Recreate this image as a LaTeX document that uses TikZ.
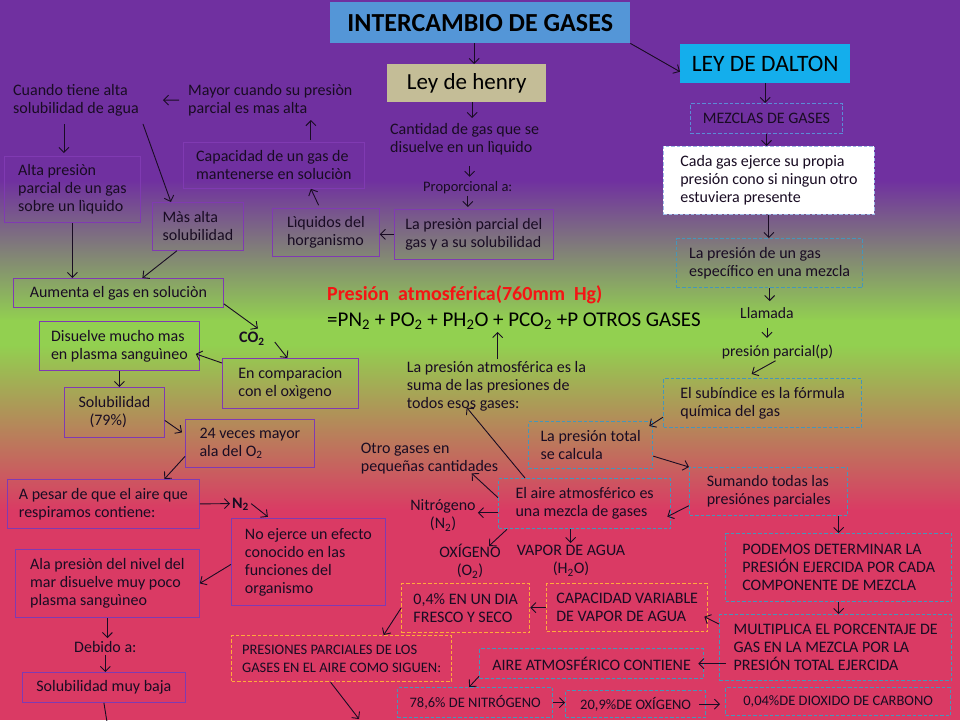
\documentclass[tikz,border=0pt]{standalone}
\usepackage{fontspec}
\setmainfont{Carlito}
\usetikzlibrary{arrows.meta}

\definecolor{morado}{RGB}{112,48,160}
\definecolor{verde}{RGB}{146,208,80}
\definecolor{rosa}{RGB}{218,58,100}
\definecolor{azulTitulo}{RGB}{84,150,215}
\definecolor{azulDalton}{RGB}{20,174,236}
\definecolor{arena}{RGB}{196,189,151}
\definecolor{bordeMorado}{RGB}{128,58,178}
\definecolor{azulPunteado}{RGB}{70,150,185}
\definecolor{azulMezcla}{RGB}{91,140,215}
\definecolor{naranjaP}{RGB}{255,170,60}
\definecolor{rojoTitulo}{RGB}{245,20,20}
\definecolor{tinta}{RGB}{25,12,35}

\begin{document}
\begin{tikzpicture}[x=1pt, y=-1pt,
    every node/.style={font=\fontsize{16}{18}\selectfont, text=tinta},
    caja/.style={draw=bordeMorado, line width=0.8pt, anchor=north west, align=left, inner xsep=4pt, inner ysep=1pt},
    punteada/.style={draw=azulPunteado, line width=1.3pt, dash pattern=on 3.5pt off 2pt, anchor=north west, align=left, inner xsep=4pt, inner ysep=1pt},
    naranja/.style={punteada, draw=naranjaP},
    texto/.style={anchor=north west, align=left, inner sep=2pt, execute at begin node={\rule{0pt}{12pt}}},
    linea/.style={anchor=base west, inner sep=2pt, execute at begin node={\rule{0pt}{12pt}}},
    flecha/.style={draw=tinta, line width=0.9pt, -{Straight Barb[length=5pt,width=10pt]}}]

    % Fondo degradado
    \fill[morado] (0,0) rectangle (960,181);
    \shade[top color=morado, bottom color=verde] (0,180) rectangle (960,321);
    \fill[verde] (0,320) rectangle (960,346);
    \shade[top color=verde, bottom color=rosa] (0,345) rectangle (960,511);
    \fill[rosa] (0,510) rectangle (960,720);
    \useasboundingbox (0,0) rectangle (960,720);

    % Titulos
    \node[fill=azulTitulo, anchor=north west, minimum width=300, minimum height=41, inner sep=0pt, text=black, font=\fontsize{26}{30}\selectfont\bfseries] (titulo) at (330,2) {INTERCAMBIO DE GASES};
    \node[fill=arena, anchor=north west, minimum width=159, minimum height=38, inner sep=0pt, text=black, font=\fontsize{23}{26}\selectfont] (henry) at (387,64) {Ley de henry};
    \node[fill=azulDalton, anchor=north west, minimum width=170, minimum height=39, inner sep=0pt, text=black, font=\fontsize{23.5}{26}\selectfont] (dalton) at (680,44) {LEY DE DALTON};

    % Ley de Henry
    \node[texto] (cantidad) at (388,121) {Cantidad de gas que se\\disuelve en un lìquido};
    \node[linea, font=\fontsize{14.5}{17}\selectfont] (proporcional) at (421,191) {Proporcional a:};
    \node[caja, minimum width=159, minimum height=50] (presion) at (394,209) {La presiòn parcial del\\gas y a su solubilidad};
    \node[caja, minimum width=107, minimum height=48] (liquidos) at (272,208) {Lìquidos del\\horganismo};
    \node[caja, minimum width=181, minimum height=46] (capacidad) at (183,142) {Capacidad de un gas de\\mantenerse en soluciòn};
    \node[texto] (mayor) at (186,82) {Mayor cuando su presiòn\\parcial es mas alta};
    \node[texto] (cuando) at (11,82) {Cuando tiene alta\\solubilidad de agua};
    \node[caja, minimum width=136, minimum height=66] (alta) at (4,156) {Alta presiòn\\parcial de un gas\\sobre un lìquido};
    \node[caja, minimum width=91, minimum height=48] (masalta) at (152,202) {Màs alta\\solubilidad};
    \node[caja, minimum width=210, minimum height=29] (aumenta) at (13,278) {Aumenta el gas en soluciòn};
    \node[linea, font=\fontsize{16}{18}\selectfont\bfseries] (co2) at (237,342.7) {CO\textsubscript{2}};
    \node[caja, minimum width=136, minimum height=50] (comparacion) at (222,358) {En comparacion\\con el oxìgeno};
    \node[caja, minimum width=160, minimum height=49] (disuelve) at (39,321) {Disuelve mucho mas\\en plasma sanguìneo};
    \node[caja, minimum width=100, minimum height=50] (sol79) at (64,387) {Solubilidad\\\hspace*{11pt}(79\%)};
    \node[caja, minimum width=129, minimum height=48] (veces) at (185,419) {24 veces mayor\\ala del O\textsubscript{2}};
    \node[caja, minimum width=192, minimum height=49] (apesar) at (7,479) {A pesar de que el aire que\\respiramos contiene:};
    \node[linea, font=\fontsize{16}{18}\selectfont\bfseries] (n2) at (230,508.3) {N\textsubscript{2}};
    \node[caja, minimum width=154, minimum height=87] (noejerce) at (231,518) {No ejerce un efecto\\conocido en las\\funciones del\\organismo};
    \node[caja, minimum width=184, minimum height=68] (alapresion) at (15,549) {Ala presiòn del nivel del\\mar disuelve muy poco\\plasma sanguìneo};
    \node[linea] (debido) at (72,652.3) {Debido a:};
    \node[caja, minimum width=163, minimum height=30] (muybaja) at (22,672) {Solubilidad muy baja};
    \coordinate (salida1) at (107,722);

    % Presion atmosferica
    \node[linea, text=rojoTitulo, font=\fontsize{20}{24}\selectfont\bfseries] (presatm) at (325,300) {Presión\ \ atmosférica(760mm\ \ Hg)};
    \node[linea, text=black, font=\fontsize{21}{24}\selectfont] (ecuacion) at (325,326.7) {=PN\textsubscript{2} + PO\textsubscript{2} + PH\textsubscript{2}O + PCO\textsubscript{2} +P OTROS GASES};
    \node[texto] (suma) at (404.7,359.3) {La presión atmosférica es la\\suma de las presiones de\\todos esos gases:};
    \node[texto] (otros) at (358.7,441) {Otro gases en\\pequeñas cantidades};
    \node[texto, anchor=north, align=center] (nitrogeno) at (443,497.7) {Nitrógeno\\(N\textsubscript{2})};
    \node[texto, anchor=north, align=center] (oxigeno) at (470,542) {OXÍGENO\\(O\textsubscript{2})};
    \node[texto, anchor=north, align=center] (vapor) at (571,543) {VAPOR DE AGUA\\(H\textsubscript{2}O)};

    % Ley de Dalton
    \node[punteada, draw=azulMezcla, line width=1pt, minimum width=152, minimum height=30] (mezclas) at (690,103) {MEZCLAS DE GASES};
    \node[punteada, draw=azulMezcla!60, line width=0.8pt, fill=white, minimum width=211, minimum height=68] (cadagas) at (663,146) {Cada gas ejerce su propia\\presión cono si ningun otro\\estuviera presente};
    \node[punteada, minimum width=186, minimum height=49] (presiongas) at (676,238) {La presión de un gas\\específico en una mezcla};
    \node[linea, font=\fontsize{15.7}{18}\selectfont] (llamada) at (738,318.3) {Llamada};
    \node[linea, font=\fontsize{15.7}{18}\selectfont] (parcialp) at (719.7,356) {presión parcial(p)};
    \node[punteada, minimum width=198, minimum height=49] (subindice) at (663,378) {El subíndice es la fórmula\\química del gas};
    \node[punteada, minimum width=124, minimum height=47] (total) at (528,421) {La presión total\\se calcula};
    \node[punteada, minimum width=158, minimum height=48] (sumando) at (689,467) {Sumando todas las\\presiónes parciales};
    \node[punteada, minimum width=172, minimum height=50] (aire) at (498,478) {El aire atmosférico es\\una mezcla de gases};
    \node[punteada, minimum width=226, minimum height=68] (podemos) at (725,533) {PODEMOS DETERMINAR LA\\PRESIÓN EJERCIDA POR CADA\\COMPONENTE DE MEZCLA};
    \node[punteada, minimum width=232, minimum height=66] (multiplica) at (719,614) {MULTIPLICA EL PORCENTAJE DE\\GAS EN LA MEZCLA POR LA\\PRESIÓN TOTAL EJERCIDA};
    \node[naranja, minimum width=161, minimum height=48] (capvar) at (546,583) {CAPACIDAD VARIABLE\\DE VAPOR DE AGUA};
    \node[naranja, minimum width=128, minimum height=49] (cuatro) at (401,583) {0,4\% EN UN DIA\\FRESCO Y SECO};
    \node[naranja, minimum width=220, minimum height=46, font=\fontsize{14.5}{17.5}\selectfont] (presparc) at (231,635) {PRESIONES PARCIALES DE LOS\\GASES EN EL AIRE COMO SIGUEN:};
    \coordinate (salida2) at (359,719);
    \node[punteada, minimum width=224, minimum height=30] (contiene) at (479,648) {AIRE ATMOSFÉRICO CONTIENE};
    \node[punteada, minimum width=155, minimum height=30, font=\fontsize{14.5}{17}\selectfont] (nitro786) at (397,687) {78,6\% DE NITRÓGENO};
    \node[punteada, minimum width=140, minimum height=27, font=\fontsize{14.5}{17}\selectfont] (oxi209) at (565,690) {20,9\%DE OXÍGENO};
    \node[punteada, minimum width=225, minimum height=28, font=\fontsize{14.5}{17}\selectfont] (dioxido) at (725,687) {0,04\%DE DIOXIDO DE CARBONO};

    % Flechas de la Ley de Henry
    \draw[flecha] ([xshift=-6pt]titulo.south) -- ([xshift=-6pt]titulo.south |- henry.north);
    \draw[flecha, shorten >=3pt] ([xshift=5.5pt]henry.south) -- ([xshift=5.5pt]henry.south |- cantidad.north);
    \draw[flecha, shorten <=9pt] ([xshift=5pt]cantidad.south) -- ([xshift=5pt]cantidad.south |- proporcional.north);
    \draw[flecha, shorten >=2pt] (proporcional.south) -- (proporcional.south |- presion.north);
    \draw[flecha] (presion.west) -- (presion.west -| liquidos.east);
    \draw[flecha, shorten <=3pt] ([xshift=-6pt]liquidos.north) -- ([xshift=37pt]capacidad.south);
    \draw[flecha, shorten <=2pt, shorten >=2pt] ([xshift=37pt]capacidad.north) -- ([xshift=37pt]capacidad.north |- mayor.south);
    \draw[flecha, shorten <=7pt, shorten >=22pt] (mayor.west) -- (cuando.east);
    \draw[flecha, shorten <=6pt, shorten >=3pt] ([xshift=-12pt]cuando.south) -- ([xshift=-12pt]cuando.south |- alta.north);
    \draw[flecha, shorten <=6pt] (cuando.south east) -- ([xshift=-27pt]masalta.north);
    \draw[flecha] (alta.south) -- (alta.south |- aumenta.north);
    \draw[flecha] ([xshift=-21pt]masalta.south) -- ([xshift=24pt]aumenta.north);
    \draw[flecha] ([yshift=4pt]aumenta.south east) -- ([xshift=6pt]co2.north);
    \draw[flecha] ([xshift=8pt,yshift=-4pt]co2.east) -- ([xshift=-3pt]comparacion.north);
    \draw[flecha] ([yshift=-5pt]comparacion.north west) -- ([xshift=-4pt,yshift=-8pt]disuelve.east);
    \draw[flecha] (disuelve.south) -- (disuelve.south |- sol79.north);
    \draw[flecha] ([yshift=-8pt]sol79.east) -- ([xshift=-3pt,yshift=11pt]veces.west);
    \draw[flecha] ([yshift=-13pt]veces.west) -- ([xshift=61pt]apesar.north);
    \draw[flecha] (apesar.east) -- (n2.west);
    \draw[flecha, shorten >=2pt] (n2.east) -- ([xshift=-39pt]noejerce.north);
    \draw[flecha] ([yshift=-2.5pt]noejerce.west) -- (alapresion.east);
    \draw[flecha] (alapresion.south) -- (alapresion.south |- debido.north);
    \draw[flecha] (debido.south) -- (debido.south |- muybaja.north);
    \draw[draw=tinta, line width=0.9pt] (muybaja.south) -- (salida1);

    % Flechas de la Ley de Dalton
    \draw[flecha] (titulo.south east) -- ([yshift=-8pt]dalton.west);
    \draw[flecha] (dalton.south) -- (dalton.south |- mezclas.north);
    \draw[flecha] (mezclas.south) -- (mezclas.south |- cadagas.north);
    \draw[flecha] (cadagas.south) -- (cadagas.south |- presiongas.north);
    \draw[flecha, shorten >=3pt] (presiongas.south) -- (presiongas.south |- llamada.north);
    \draw[flecha, shorten <=7pt, shorten >=4pt] (llamada.south) -- (llamada.south |- parcialp.north);
    \draw[flecha] ([xshift=-2pt]parcialp.south) -- ([xshift=-11pt,yshift=4pt]subindice.north);
    \draw[flecha] ([yshift=-14pt]subindice.west) -- ([xshift=-4pt,yshift=-5pt]total.north east);
    \draw[flecha] ([yshift=-11pt]total.east) -- (sumando.north west);
    \draw[flecha] ([yshift=-14pt]sumando.west) -- ([xshift=-4pt,yshift=-13pt]aire.east);
    \draw[flecha] ([xshift=27pt]aire.north west) -- ([xshift=62pt,yshift=6pt]suma.south west);
    \draw[flecha] ([xshift=93pt]suma.north west) -- ([xshift=93pt]suma.north west |- ecuacion.south);
    \draw[flecha] ([yshift=6pt]aire.west) -- ([xshift=113pt,yshift=3pt]otros.south west);
    \draw[flecha] ([yshift=-9pt]aire.west) -- ([yshift=-9pt]aire.west -| nitrogeno.east);
    \draw[flecha] ([xshift=9pt]aire.south west) -- ([xshift=19pt,yshift=-4pt]oxigeno.north);
    \draw[flecha] ([xshift=-14pt]aire.south) -- ([xshift=-14pt]aire.south |- vapor.north);
    \draw[flecha] ([xshift=70pt]sumando.south) -- ([xshift=70pt]sumando.south |- podemos.north);
    \draw[flecha] (podemos.south) -- (podemos.south |- multiplica.north);
    \draw[flecha] ([yshift=-10pt]multiplica.north west) -- ([xshift=-4pt,yshift=-9pt]capvar.east);
    \draw[flecha] (capvar.west) -- (capvar.west -| cuatro.east);
    \draw[flecha] (cuatro.west) -- ([xshift=42pt]presparc.north);
    \draw[flecha] ([xshift=-11pt]presparc.south) -- (salida2);
    \draw[flecha, shorten <=-7pt, shorten >=-6pt] (contiene.east -| multiplica.west) -- (contiene.east);
    \draw[flecha] ([yshift=3pt]contiene.south west) -- ([xshift=-6pt]nitro786.north);
    \draw[flecha] (nitro786.east) -- (nitro786.east -| oxi209.west);
    \draw[flecha, shorten <=-7pt, shorten >=5pt] (oxi209.east) -- (oxi209.east -| dioxido.west);
\end{tikzpicture}
\end{document}
